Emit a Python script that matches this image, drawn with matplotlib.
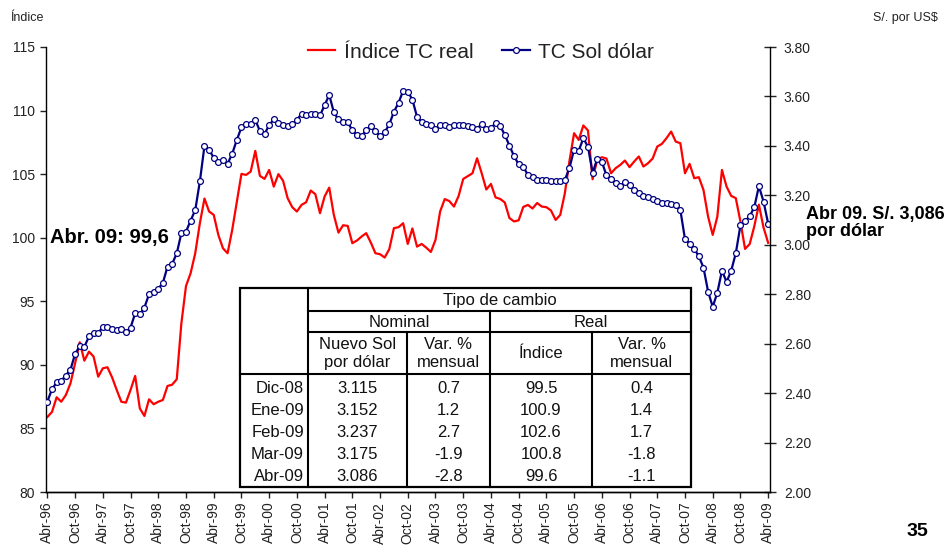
import matplotlib
matplotlib.use('Agg')
from matplotlib import pyplot as plt
from matplotlib.patches import Rectangle
import numpy as np

plt.rcParams['font.family'] = ['Liberation Sans', 'DejaVu Sans']

# indice de tipo de cambio real, mensual Abr-96 .. Abr-09
tc_real = [
    85.9, 86.3, 87.45, 87.1, 87.63, 88.55, 90.13, 91.78, 90.33, 91.04,
    90.65, 89.07, 89.73, 89.81, 89.02, 88.03, 87.1, 87.03, 88.03, 89.13,
    86.58, 85.98, 87.29, 86.9, 87.1, 87.24, 88.34, 88.44, 88.87, 93.27,
    96.2, 97.21, 98.78, 101.14, 103.08, 102.06, 101.8, 100.22, 99.17, 98.78,
    100.61, 102.84, 105.02, 104.94, 105.2, 106.83, 104.86, 104.63, 105.33, 104.02,
    105.0, 104.49, 103.11, 102.4, 102.06, 102.58, 102.79, 103.71, 103.42, 101.93,
    103.24, 103.94, 101.79, 100.4, 100.98, 100.93, 99.57, 99.78, 100.09, 100.36,
    99.62, 98.78, 98.7, 98.44, 99.1, 100.75, 100.83, 101.14, 99.51, 100.73,
    99.3, 99.51, 99.22, 98.88, 99.83, 102.06, 103.04, 102.88, 102.45, 103.28,
    104.62, 104.85, 105.07, 106.25, 105.07, 103.79, 104.23, 103.17, 103.05, 102.77,
    101.55, 101.28, 101.37, 102.42, 102.58, 102.3, 102.73, 102.45, 102.4, 102.14,
    101.4, 101.79, 103.5, 106.05, 108.22, 107.69, 108.83, 108.44, 104.6, 106.12,
    106.33, 106.23, 105.07, 105.47, 105.73, 106.07, 105.55, 105.99, 106.39, 105.6,
    105.86, 106.23, 107.17, 107.38, 107.83, 108.35, 107.56, 107.43, 105.07, 105.81,
    104.68, 104.76, 103.76, 101.66, 100.22, 101.66, 105.33, 104.02, 103.29, 103.11,
    101.27, 99.12, 99.5, 100.9, 102.6, 100.8, 99.6,
]

# soles por dolar, mensual Abr-96 .. Abr-09
tc_nominal = [
    2.366, 2.416, 2.443, 2.451, 2.471, 2.495, 2.559, 2.59, 2.587, 2.629,
    2.644, 2.644, 2.667, 2.668, 2.66, 2.655, 2.659, 2.646, 2.665, 2.723,
    2.718, 2.746, 2.8, 2.81, 2.822, 2.846, 2.912, 2.923, 2.965, 3.047,
    3.053, 3.098, 3.14, 3.256, 3.4, 3.383, 3.353, 3.336, 3.344, 3.328,
    3.368, 3.424, 3.475, 3.487, 3.489, 3.505, 3.46, 3.448, 3.484, 3.507,
    3.492, 3.484, 3.481, 3.488, 3.504, 3.531, 3.525, 3.527, 3.53, 3.523,
    3.564, 3.606, 3.536, 3.507, 3.497, 3.495, 3.464, 3.443, 3.439, 3.464,
    3.481, 3.459, 3.439, 3.455, 3.487, 3.538, 3.574, 3.623, 3.62, 3.587,
    3.518, 3.497, 3.488, 3.483, 3.468, 3.484, 3.483, 3.477, 3.484, 3.484,
    3.483, 3.48, 3.478, 3.47, 3.488, 3.468, 3.472, 3.492, 3.48, 3.445,
    3.401, 3.359, 3.325, 3.315, 3.283, 3.273, 3.264, 3.263, 3.262, 3.26,
    3.258, 3.258, 3.262, 3.311, 3.385, 3.381, 3.43, 3.397, 3.291, 3.347,
    3.336, 3.281, 3.267, 3.248, 3.236, 3.254, 3.24, 3.223, 3.208, 3.197,
    3.192, 3.187, 3.179, 3.17, 3.171, 3.163, 3.159, 3.14, 3.023, 3.005,
    2.984, 2.953, 2.908, 2.811, 2.749, 2.806, 2.895, 2.85, 2.895, 2.966,
    3.078, 3.096, 3.115, 3.152, 3.237, 3.175, 3.086,
]

tick_labels = ['Abr-96', 'Oct-96', 'Abr-97', 'Oct-97', 'Abr-98', 'Oct-98',
               'Abr-99', 'Oct-99', 'Abr-00', 'Oct-00', 'Abr-01', 'Oct-01',
               'Abr-02', 'Oct-02', 'Abr-03', 'Oct-03', 'Abr-04', 'Oct-04',
               'Abr-05', 'Oct-05', 'Abr-06', 'Oct-06', 'Abr-07', 'Oct-07',
               'Abr-08', 'Oct-08', 'Abr-09']

tabla_meses = ['Dic-08', 'Ene-09', 'Feb-09', 'Mar-09', 'Abr-09']
tabla_nominal = ['3.115', '3.152', '3.237', '3.175', '3.086']
tabla_var_nom = ['0.7', '1.2', '2.7', '-1.9', '-2.8']
tabla_indice = ['99.5', '100.9', '102.6', '100.8', '99.6']
tabla_var_real = ['0.4', '1.4', '1.7', '-1.8', '-1.1']

W, H = 949, 548
fig = plt.figure(figsize=(W / 100, H / 100), dpi=100)
ax = fig.add_axes([46 / W, 1 - 492 / H, (770 - 46) / W, (492 - 47) / H])
ax2 = ax.twinx()

x = np.arange(len(tc_real))
red, = ax.plot(x, tc_real, color='#ff0000', lw=1.6, zorder=2)
blue, = ax2.plot(x, tc_nominal, color='#000080', lw=1.6, marker='o',
                 markersize=4.2, markerfacecolor='white',
                 markeredgecolor='#000080', markeredgewidth=0.9)

ax.set_xlim(-0.3, 156.4)
ax.set_ylim(80, 115)
ax2.set_ylim(2.0, 3.8)
ax.set_yticks(np.arange(80, 116, 5))
ax2.set_yticks(np.arange(2.0, 3.81, 0.2))
ax2.set_yticklabels(['%.2f' % v for v in np.arange(2.0, 3.81, 0.2)])
ax.set_xticks(np.arange(0, 157, 6))
ax.set_xticklabels(tick_labels, rotation=90)

for a in (ax, ax2):
    a.spines['top'].set_visible(False)
    for s in a.spines.values():
        s.set_linewidth(1.0)
ax2.spines['left'].set_visible(False)
ax.spines['right'].set_visible(False)

ax.tick_params(axis='y', direction='out', length=4, width=1, labelsize=10,
               pad=4, colors='#222222')
ax.tick_params(axis='x', direction='out', length=4, width=1, labelsize=10,
               pad=3, colors='#222222')
ax2.tick_params(axis='y', direction='inout', length=8, width=1, labelsize=10,
                pad=6, colors='#222222')

fig.legend([red, blue], ['Índice TC real', 'TC Sol dólar'], ncol=2,
           frameon=False, loc='center', bbox_to_anchor=(481 / W, 1 - 52 / H),
           fontsize=15, handlelength=1.3, handletextpad=0.4,
           columnspacing=1.4, numpoints=1, labelcolor='#222222')

fig.text(10 / W, 1 - 18 / H, 'Índice', fontsize=9, va='center', ha='left',
         color='#222222')
fig.text(938 / W, 1 - 18 / H, 'S/. por US$', fontsize=9, va='center',
         ha='right', color='#222222')
fig.text(50 / W, 1 - 237 / H, 'Abr. 09: 99,6', fontsize=14.5,
         fontweight='bold', va='center', ha='left')
fig.text(806 / W, 1 - 223 / H, 'Abr 09. S/. 3,086\npor dólar', fontsize=13,
         fontweight='bold', va='center', ha='left', linespacing=1.05)
fig.text(928 / W, 1 - 531 / H, '35', fontsize=14, fontweight='bold',
         va='center', ha='right')

# cuadro resumen
tab = fig.add_axes([238 / W, 1 - 490 / H, (694 - 238) / W, (490 - 286) / H])
tab.set_xlim(238, 694)
tab.set_ylim(490, 286)
tab.axis('off')
tab.add_patch(Rectangle((240, 288), 451, 199, facecolor='white',
                        edgecolor='black', lw=1.6))
lw = 1.5
tab.plot([308, 691], [311, 311], color='black', lw=lw)
tab.plot([308, 691], [332, 332], color='black', lw=lw)
tab.plot([240, 691], [374, 374], color='black', lw=lw)
tab.plot([308, 308], [288, 487], color='black', lw=lw)
tab.plot([407, 407], [332, 487], color='black', lw=lw)
tab.plot([490, 490], [311, 487], color='black', lw=lw)
tab.plot([592, 592], [332, 487], color='black', lw=lw)

fs = 12
tc = '#111111'
tab.text(499.5, 300, 'Tipo de cambio', ha='center', va='center', fontsize=fs, color=tc)
tab.text(399, 322, 'Nominal', ha='center', va='center', fontsize=fs, color=tc)
tab.text(590.5, 322, 'Real', ha='center', va='center', fontsize=fs, color=tc)
tab.text(357.5, 353.5, 'Nuevo Sol\npor dólar', ha='center', va='center',
         fontsize=fs, linespacing=1.25, color=tc)
tab.text(448.5, 353.5, 'Var. %\nmensual', ha='center', va='center',
         fontsize=fs, linespacing=1.25, color=tc)
tab.text(541, 353.5, 'Índice', ha='center', va='center', fontsize=fs, color=tc)
tab.text(641.5, 353.5, 'Var. %\nmensual', ha='center', va='center',
         fontsize=fs, linespacing=1.25, color=tc)

cols = [tabla_nominal, tabla_var_nom, tabla_indice, tabla_var_real]
centers = [357.5, 448.5, 541, 641.5]
for i, mes in enumerate(tabla_meses):
    yy = 388 + i * 22
    tab.text(304, yy, mes, ha='right', va='center', fontsize=fs, color=tc)
    for c, vals in zip(centers, cols):
        tab.text(c, yy, vals[i], ha='center', va='center', fontsize=fs, color=tc)

fig.savefig('out.png', dpi=100)
